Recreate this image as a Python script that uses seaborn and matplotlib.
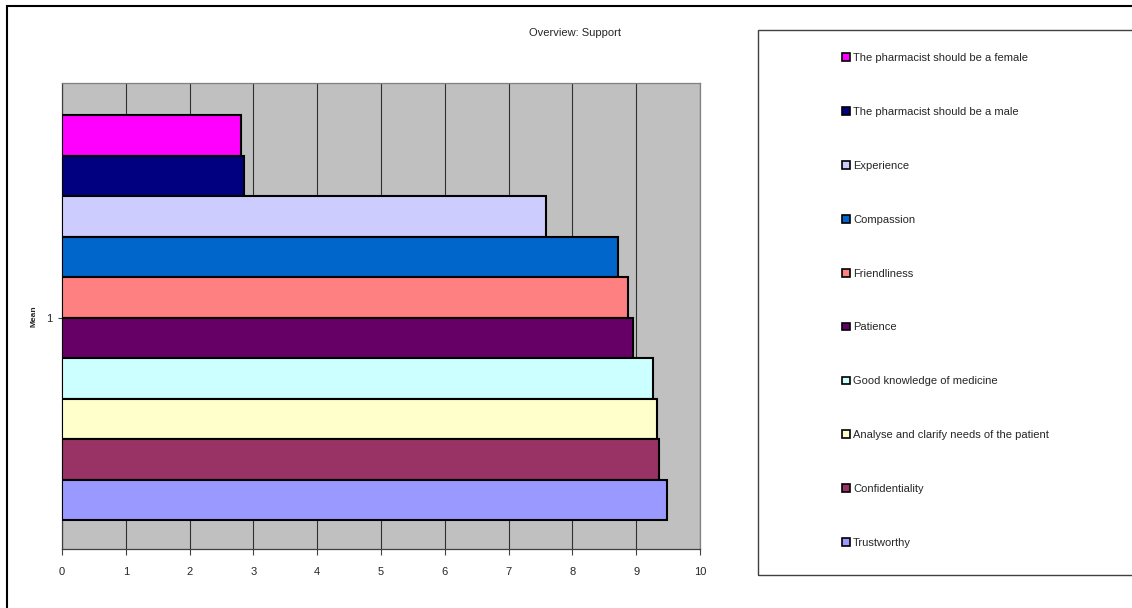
import matplotlib
matplotlib.use("Agg")
from matplotlib import pyplot as plt
from matplotlib.patches import Patch, Rectangle
import seaborn as sns
import pandas as pd

labels = ["The pharmacist should be a female",
          "The pharmacist should be a male",
          "Experience",
          "Compassion",
          "Friendliness",
          "Patience",
          "Good knowledge of medicine",
          "Analyse and clarify needs of the patient",
          "Confidentiality",
          "Trustworthy"]
means = [2.81, 2.85, 7.59, 8.72, 8.87, 8.95, 9.27, 9.32, 9.35, 9.48]
colors = ["#FF00FF", "#000080", "#CCCCFF", "#0066CC", "#FF8080",
          "#660066", "#CCFFFF", "#FFFFCC", "#993366", "#9999FF"]
xticks = list(range(0, 11))

sns.set_theme(style="white")
plt.rcParams["font.family"] = ["Liberation Sans Narrow", "Liberation Sans", "DejaVu Sans"]

df = pd.DataFrame({"item": labels, "mean": means})

fig = plt.figure(figsize=(11.32, 6.08), dpi=100)
W, H = 1132, 608
ax = fig.add_axes([62 / W, 1 - 549 / H, 638 / W, 466 / H])
ax.set_facecolor("#C0C0C0")

sns.barplot(data=df, x="mean", y="item", hue="item", palette=colors,
            saturation=1, width=1.0, edgecolor="black", linewidth=1.5,
            legend=False, ax=ax, zorder=3)

ax.set_xlim(0, 10)
ax.set_ylim(10.21, -1.29)
ax.set_xticks(xticks)
ax.set_xticklabels([str(t) for t in xticks], fontsize=8)
ax.set_yticks([4.5])
ax.set_yticklabels(["1"], fontsize=8)
ax.set_xlabel("")
ax.set_ylabel("Mean", fontsize=6, fontweight="bold", labelpad=6)
ax.grid(axis="x", color="#303030", linewidth=0.8, zorder=0)
ax.set_axisbelow(True)
ax.tick_params(axis="x", direction="out", length=4, width=0.8, color="#404040",
               bottom=True, pad=9)
ax.tick_params(axis="y", direction="out", length=3, width=0.8, color="#404040",
               left=True, pad=4)
for s in ["left", "bottom"]:
    ax.spines[s].set_color("#404040")
    ax.spines[s].set_linewidth(0.9)
for s in ["top", "right"]:
    ax.spines[s].set_color("#808080")
    ax.spines[s].set_linewidth(0.9)

fig.text(575 / W, 1 - 33 / H, "Overview: Support", ha="center", va="center", fontsize=8)

# outer chart border (cropped at right and bottom)
fig.patches.append(Rectangle((7 / W, -0.1), 1.2, 1.1 - 6 / H, transform=fig.transFigure,
                             fill=False, edgecolor="black", linewidth=1.5))
# legend box
fig.patches.append(Rectangle((758 / W, 1 - 575 / H), 0.5, 545 / H, transform=fig.transFigure,
                             fill=False, edgecolor="#404040", linewidth=1.0))

handles = [Patch(facecolor=c, edgecolor="black", linewidth=1.2) for c in colors]
fig.legend(handles, labels, loc="upper left", bbox_to_anchor=(842 / W, 1 - 53 / H),
           frameon=False, fontsize=8, handlelength=0.7, handleheight=0.7,
           handletextpad=0.3, labelspacing=3.95, borderaxespad=0, borderpad=0)

fig.savefig("out.png", dpi=100)
